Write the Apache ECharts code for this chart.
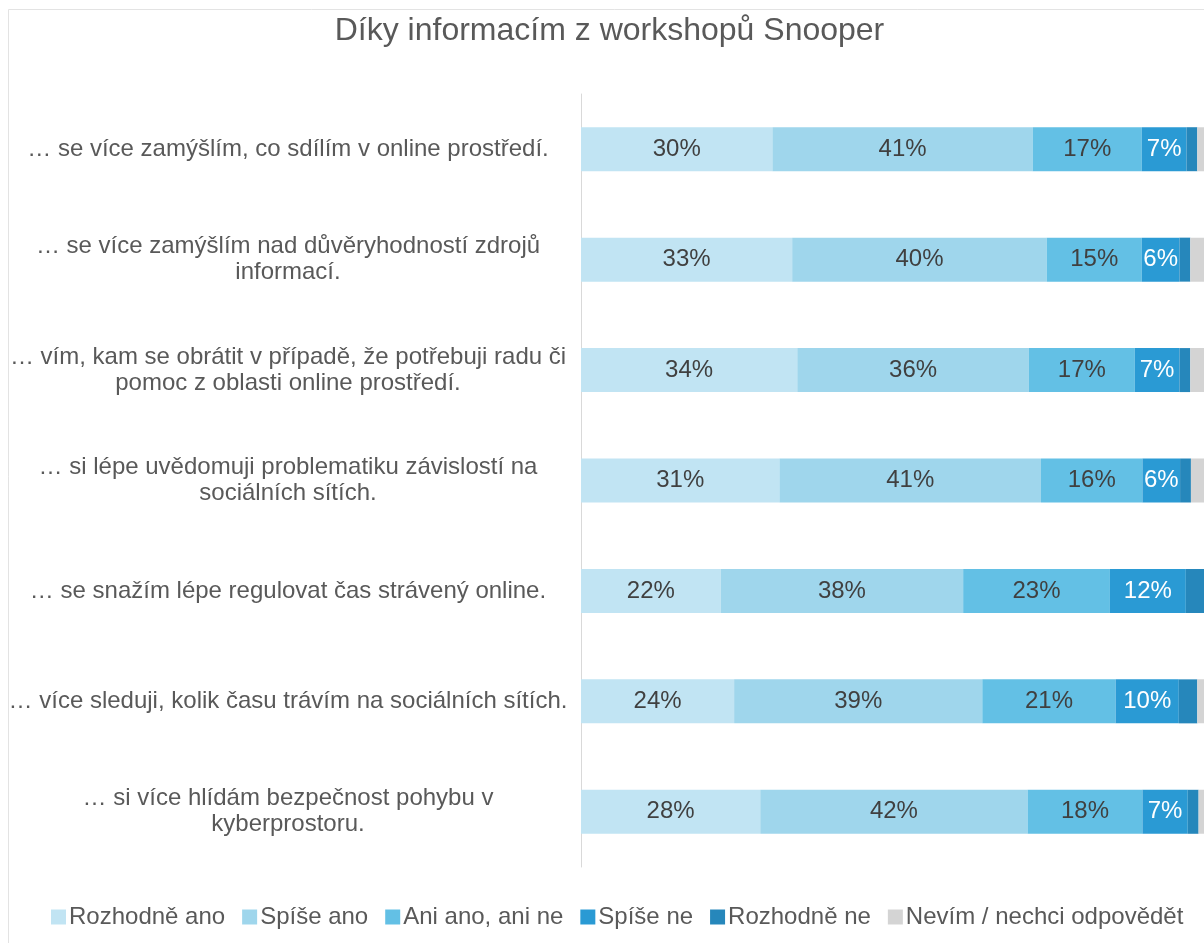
<!DOCTYPE html>
<html lang="cs">
<head>
  <meta charset="UTF-8">
  <title>Díky informacím z workshopů Snooper</title>
  <style>
    html, body { margin: 0; padding: 0; background: #fff; overflow: hidden; }
    /* the original chart is cut off on the right, so the canvas is a bit wider than the window */
    #chart { width: 1219px; height: 943px; }
  </style>
</head>
<body>
  <div id="chart"></div>
  <script src="https://cdn.jsdelivr.net/npm/echarts@6/dist/echarts.min.js"></script>
  <script>
    let chart = echarts.init(document.getElementById('chart'))

    // otázky (odshora dolů)
    var categories = [
      '… se více zamýšlím, co sdílím v online prostředí.',
      '… se více zamýšlím nad důvěryhodností zdrojů\ninformací.',
      '… vím, kam se obrátit v případě, že potřebuji radu či\npomoc z oblasti online prostředí.',
      '… si lépe uvědomuji problematiku závislostí na\nsociálních sítích.',
      '… se snažím lépe regulovat čas strávený online.',
      '… více sleduji, kolik času trávím na sociálních sítích.',
      '… si více hlídám bezpečnost pohybu v\nkyberprostoru.'
    ]

    // odpovědi v %
    var rozhodneAno = [30.0, 33.1, 33.9, 31.1, 21.9, 24.0, 28.1]
    var spiseAno    = [40.8, 39.9, 36.3, 41.0, 38.0, 38.9, 41.9]
    var aniAniNe    = [17.1, 14.9, 16.6, 15.9, 23.0, 20.9, 18.0]
    var spiseNe     = [7.0, 5.9, 7.0, 5.9, 11.9, 9.9, 7.1]
    var rozhodneNe  = [1.7, 1.7, 1.7, 1.7, 3.2, 2.9, 1.7]
    var nevim       = [3.4, 4.5, 4.5, 4.4, 2.0, 3.4, 3.2]

    var seriesNames = ['Rozhodně ano', 'Spíše ano', 'Ani ano, ani ne', 'Spíše ne', 'Rozhodně ne', 'Nevím / nechci odpovědět']
    var seriesData = [rozhodneAno, spiseAno, aniAniNe, spiseNe, rozhodneNe, nevim]
    var colors = ['#c1e4f3', '#9fd6ec', '#63c0e5', '#2a9ad4', '#2687bb', '#d4d4d4']
    var labelColors = ['#404040', '#404040', '#404040', '#ffffff', '#ffffff', '#404040']

    var series = seriesNames.map(function (name, i) {
      return {
        name: name,
        type: 'bar',
        stack: 'total',
        barWidth: 44,
        data: seriesData[i],
        itemStyle: { color: colors[i] },
        emphasis: { disabled: true },
        label: {
          show: true,
          position: 'inside',
          color: labelColors[i],
          fontSize: 24,
          fontFamily: 'Liberation Sans',
          formatter: function (p) {
            return p.value < 5 ? '' : Math.round(p.value) + '%'
          }
        }
      }
    })

    var option = {
      backgroundColor: '#ffffff',
      animation: false,
      color: colors,
      textStyle: { fontFamily: 'Liberation Sans' },
      title: {
        text: 'Díky informacím z workshopů Snooper',
        left: 'center',
        top: 10,
        textStyle: { fontSize: 32, fontWeight: 'normal', color: '#595959', fontFamily: 'Liberation Sans' }
      },
      graphic: [{
        type: 'rect',
        shape: { x: 8.5, y: 9.5, width: 1400, height: 1200 },
        style: { fill: 'none', stroke: '#e3e3e3', lineWidth: 1 },
        silent: true
      }],
      legend: {
        data: seriesNames,
        left: 46,
        top: 900,
        itemWidth: 15,
        itemHeight: 15,
        itemGap: 17,
        icon: 'rect',
        textStyle: { fontSize: 24, color: '#595959', padding: [0, 0, 0, -2] }
      },
      grid: {
        left: 581,
        right: 0,
        top: 94,
        height: 773
      },
      xAxis: {
        type: 'value',
        min: 0,
        max: 100,
        show: false
      },
      yAxis: {
        type: 'category',
        inverse: true,
        data: categories,
        axisLine: { show: true, lineStyle: { color: '#d9d9d9', width: 1 } },
        axisTick: { show: false },
        axisLabel: {
          align: 'center',
          margin: 293,
          fontSize: 24,
          lineHeight: 26,
          color: '#595959',
          padding: [4, 0, 0, 0]
        }
      },
      series: series
    }
    chart.setOption(option)
  </script>
</body>
</html>
